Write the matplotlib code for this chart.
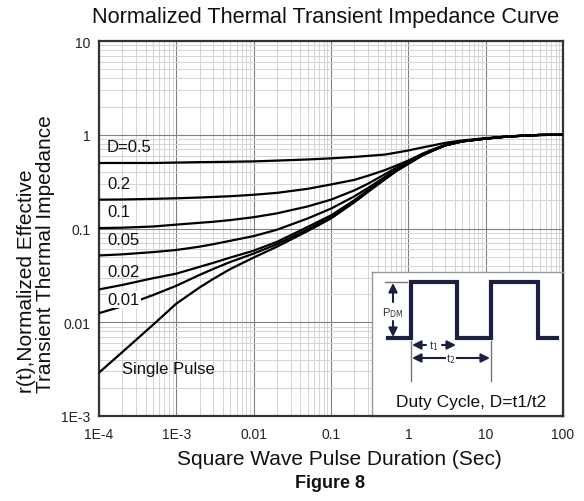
import matplotlib
matplotlib.use("Agg")
import matplotlib.pyplot as plt
from matplotlib.ticker import FixedLocator, LogLocator, NullFormatter

plt.rcParams["font.family"] = ["Liberation Sans", "DejaVu Sans"]

# pulse duration (s)
durations = [1e-4, 2e-4, 5e-4, 1e-3, 2e-3, 3e-3, 5e-3, 1e-2, 2e-2, 5e-2,
             0.1, 0.2, 0.3, 0.5, 0.7, 1, 1.5, 2, 3, 5, 10, 20, 50, 100]

r_d05 = [0.50, 0.50, 0.50, 0.505, 0.51, 0.512, 0.515, 0.52, 0.53, 0.545,
         0.56, 0.58, 0.595, 0.615, 0.645, 0.68, 0.73, 0.765, 0.82, 0.87,
         0.92, 0.96, 0.995, 1.0]
r_d02 = [0.203, 0.204, 0.207, 0.21, 0.214, 0.217, 0.221, 0.229, 0.24, 0.265,
         0.295, 0.33, 0.365, 0.42, 0.47, 0.53, 0.625, 0.69, 0.78, 0.855,
         0.91, 0.96, 0.995, 1.0]
r_d01 = [0.101, 0.102, 0.105, 0.11, 0.115, 0.118, 0.123, 0.132, 0.145, 0.172,
         0.203, 0.255, 0.30, 0.38, 0.445, 0.51, 0.61, 0.68, 0.775, 0.85,
         0.91, 0.96, 0.995, 1.0]
r_d005 = [0.0516, 0.053, 0.056, 0.059, 0.064, 0.068, 0.074, 0.083, 0.097, 0.128,
          0.163, 0.22, 0.27, 0.355, 0.425, 0.50, 0.605, 0.675, 0.77, 0.85,
          0.91, 0.96, 0.995, 1.0]
r_d002 = [0.0224, 0.025, 0.0295, 0.033, 0.039, 0.043, 0.049, 0.058, 0.072, 0.104,
          0.138, 0.20, 0.255, 0.342, 0.415, 0.495, 0.60, 0.67, 0.77, 0.85,
          0.91, 0.96, 0.995, 1.0]
r_d001 = [0.0125, 0.0148, 0.0195, 0.0245, 0.032, 0.037, 0.044, 0.054, 0.068, 0.098,
          0.132, 0.195, 0.25, 0.338, 0.412, 0.49, 0.60, 0.67, 0.77, 0.85,
          0.91, 0.96, 0.995, 1.0]
r_single = [0.0029, 0.0048, 0.0094, 0.0158, 0.0235, 0.029, 0.037, 0.049, 0.064, 0.094,
            0.128, 0.19, 0.245, 0.335, 0.41, 0.49, 0.60, 0.67, 0.77, 0.85,
            0.91, 0.96, 0.995, 1.0]

curves = [r_d05, r_d02, r_d01, r_d005, r_d002, r_d001, r_single]

# curve labels: text, x, y (data coords)
curve_labels = [
    ("D=0.5", 1.27e-4, 0.75),
    ("0.2", 1.3e-4, 0.30),
    ("0.1", 1.3e-4, 0.15),
    ("0.05", 1.3e-4, 0.076),
    ("0.02", 1.3e-4, 0.035),
    ("0.01", 1.3e-4, 0.0175),
    ("Single Pulse", 2.0e-4, 0.0032),
]

x_ticks = [1e-4, 1e-3, 1e-2, 1e-1, 1, 10, 100]
x_tick_labels = ["1E-4", "1E-3", "0.01", "0.1", "1", "10", "100"]
y_ticks = [1e-3, 1e-2, 1e-1, 1, 10]
y_tick_labels = ["1E-3", "0.01", "0.1", "1", "10"]

W, H = 584, 502
fig = plt.figure(figsize=(W / 100, H / 100), dpi=100)
ax = fig.add_axes([99 / W, (H - 417) / H, 464 / W, 375 / H])
ax.set_xscale("log")
ax.set_yscale("log")
ax.set_xlim(1e-4, 100)
ax.set_ylim(1e-3, 10)

ax.xaxis.set_major_locator(FixedLocator(x_ticks))
ax.yaxis.set_major_locator(FixedLocator(y_ticks))
ax.set_xticklabels(x_tick_labels)
ax.set_yticklabels(y_tick_labels)
ax.xaxis.set_minor_locator(LogLocator(base=10, subs=range(2, 10), numticks=20))
ax.yaxis.set_minor_locator(LogLocator(base=10, subs=range(2, 10), numticks=20))
ax.xaxis.set_minor_formatter(NullFormatter())
ax.yaxis.set_minor_formatter(NullFormatter())
ax.tick_params(which="both", length=0, labelsize=10, colors="#222222")
ax.tick_params(axis="x", pad=8)
ax.tick_params(axis="y", pad=6)

ax.grid(which="major", color="#808080", linewidth=0.8)
ax.grid(which="minor", color="#d4d4d4", linewidth=0.7)
ax.set_axisbelow(True)
for sp in ax.spines.values():
    sp.set_linewidth(1.6)
    sp.set_color("#333333")

for r in curves:
    ax.plot(durations, r, color="black", linewidth=1.6, zorder=3)

for text, x, y in curve_labels:
    t = ax.text(x, y, text, fontsize=12, ha="left", va="center", color="#111111",
                zorder=4)
    if text == "0.01":
        t.set_bbox(dict(facecolor="white", edgecolor="none", pad=0.5))

fig.text(326 / W, 1 - 17 / H, "Normalized Thermal Transient Impedance Curve",
         fontsize=15.7, ha="center", va="center", color="#111111")
fig.text(339 / W, 1 - 460 / H, "Square Wave Pulse Duration (Sec)",
         fontsize=15, ha="center", va="center", color="#111111")
fig.text(330 / W, 1 - 484 / H, "Figure 8", fontsize=13, fontweight="bold",
         ha="center", va="center", color="#111111")
fig.text(36 / W, 1 - 393 / H,
         "r(t),Normalized Effective\nTransient Thermal Impedance",
         fontsize=15, rotation=90, ha="center", va="bottom", color="#111111",
         multialignment="left", linespacing=1.0)

# duty cycle inset, drawn in pixel coordinates of the figure
ins = fig.add_axes([372 / W, (H - 417) / H, (563 - 372) / W, (417 - 273) / H])
ins.set_xlim(372, 563)
ins.set_ylim(417, 273)
ins.set_xticks([])
ins.set_yticks([])
ins.set_facecolor("white")
for sp in ins.spines.values():
    sp.set_color("#999999")
    sp.set_linewidth(1.0)
ins.spines["right"].set_color("#333333")
ins.spines["right"].set_linewidth(1.6)
ins.spines["bottom"].set_color("#333333")
ins.spines["bottom"].set_linewidth(1.6)

navy = "#1c2040"
wave_x = [388, 411, 411, 457, 457, 491, 491, 538, 538, 557]
wave_y = [339, 339, 283, 283, 339, 339, 283, 283, 339, 339]
ins.plot(wave_x, wave_y, color=navy, linewidth=3, solid_joinstyle="miter")

gray = "#777777"
ins.plot([385, 407], [283, 283], color=gray, linewidth=1)
ins.plot([411, 411], [342, 382], color=gray, linewidth=1)
ins.plot([491, 491], [342, 382], color=gray, linewidth=1)

arrow = dict(arrowstyle="-|>", color=navy, linewidth=1.5, mutation_scale=13,
             shrinkA=0, shrinkB=0)
ins.annotate("", xy=(393, 284), xytext=(393, 303), arrowprops=arrow)
ins.annotate("", xy=(393, 338), xytext=(393, 322), arrowprops=arrow)
ins.text(393, 313, "P$_{\\mathrm{DM}}$", fontsize=8, ha="center", va="center",
         color="#333333")

ins.annotate("", xy=(412, 346), xytext=(426, 346), arrowprops=arrow)
ins.annotate("", xy=(456, 346), xytext=(442, 346), arrowprops=arrow)
ins.text(434, 346, "t$_1$", fontsize=8, ha="center", va="center", color="#333333")

ins.annotate("", xy=(412, 359), xytext=(440, 359), arrowprops=arrow)
ins.annotate("", xy=(490, 359), xytext=(462, 359), arrowprops=arrow)
ins.plot([440, 445], [359, 359], color=navy, linewidth=1.5)
ins.plot([457, 462], [359, 359], color=navy, linewidth=1.5)
ins.text(451, 359, "t$_2$", fontsize=8, ha="center", va="center", color="#333333")

ins.text(471, 402, "Duty Cycle, D=t1/t2", fontsize=12.5, ha="center",
         va="center", color="#111111")

fig.savefig("out.png", dpi=100)
